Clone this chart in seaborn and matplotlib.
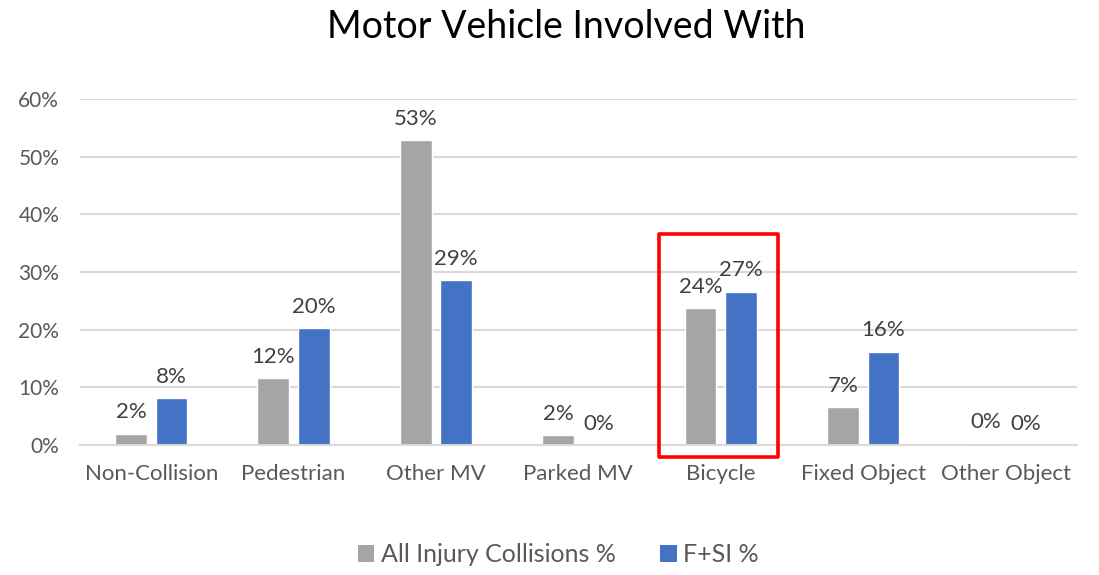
import matplotlib
matplotlib.use("Agg")
import matplotlib.pyplot as plt
from matplotlib.patches import Patch, Rectangle
import pandas as pd
import seaborn as sns

categories = ["Non-Collision", "Pedestrian", "Other MV", "Parked MV",
              "Bicycle", "Fixed Object", "Other Object"]
all_injury = [2.0, 11.6, 52.9, 1.7, 23.8, 6.6, 0.4]
fsi = [8.1, 20.3, 28.6, 0.0, 26.6, 16.2, 0.0]
series_names = ["All Injury Collisions %", "F+SI %"]
y_ticks = [0, 10, 20, 30, 40, 50, 60]
highlight = "Bicycle"

colors = ["#A5A5A5", "#4472C4"]
text_color = "#595959"
grid_color = "#D9D9D9"

df = pd.DataFrame({
    "category": categories * 2,
    "value": all_injury + fsi,
    "series": [series_names[0]] * len(categories) + [series_names[1]] * len(categories),
})

sns.set_theme(style="white")
plt.rcParams["font.family"] = ["Lato", "DejaVu Sans"]

fig = plt.figure(figsize=(10.99, 5.75), dpi=100)
ax = fig.add_axes([0.0728, 0.226, 0.907, 0.602])

sns.barplot(data=df, x="category", y="value", hue="series", order=categories,
            hue_order=series_names, palette=colors, width=0.57, gap=0.22,
            saturation=1, legend=False, ax=ax)

for container in ax.containers:
    vals = container.datavalues
    ax.bar_label(container, labels=[f"{round(v):.0f}%" for v in vals],
                 padding=8, fontsize=16, color="#404040")

ax.set_ylim(0, 60)
ax.set_xlim(-0.5, len(categories) - 0.5)
ax.set_yticks(y_ticks)
ax.set_yticklabels([f"{t}%" for t in y_ticks])
ax.yaxis.grid(True, color=grid_color, linewidth=1.5)
ax.set_axisbelow(True)
for side in ["top", "right", "left"]:
    ax.spines[side].set_visible(False)
ax.spines["bottom"].set_color(grid_color)
ax.spines["bottom"].set_linewidth(1.5)
ax.tick_params(axis="y", length=0, pad=15, labelsize=15, labelcolor=text_color)
ax.tick_params(axis="x", length=0, pad=14, labelsize=16, labelcolor=text_color)
ax.set_xlabel("")
ax.set_ylabel("")

# Box around the highlighted category
hi = categories.index(highlight)
ax.add_patch(Rectangle((hi - 0.436, -2.1), 0.836, 38.6, fill=False,
                       edgecolor="#FF0000", linewidth=2.6, clip_on=False,
                       joinstyle="round", zorder=5))

fig.suptitle("Motor Vehicle Involved With", x=0.515, y=0.985, fontsize=27,
             color="black")

handles = [Patch(facecolor=c, edgecolor="none") for c in colors]
fig.legend(handles, series_names, loc="center", bbox_to_anchor=(0.508, 0.035),
           ncol=2, frameon=False, fontsize=18, labelcolor=text_color,
           handlelength=0.65, handleheight=0.65, handletextpad=0.25,
           columnspacing=1.8)

fig.savefig("out.png", dpi=100)
